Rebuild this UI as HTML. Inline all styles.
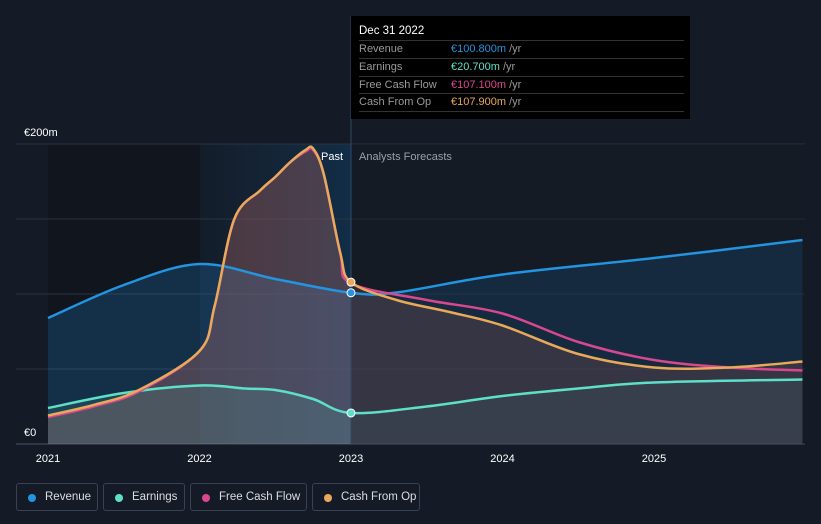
<!DOCTYPE html>
<html><head><meta charset="utf-8"><style>
body{margin:0;background:#151b26;font-family:"Liberation Sans",sans-serif;}
#wrap{position:relative;width:821px;height:524px;overflow:hidden;background:#151b26}
.tt{position:absolute;left:351px;top:16px;width:339px;height:103px;background:#000;color:#fff;font-size:11px}
.tt .h{position:absolute;left:8px;top:9px;font-size:11.5px}
.row{position:absolute;left:8px;width:325px;height:17px;border-top:1px solid #333;line-height:17px;color:#999}
.row span.v{position:absolute;left:92px}
.leg{position:absolute;top:483px;height:28px;border:1px solid #3a4150;border-radius:3px;color:#ddd;font-size:11.5px;line-height:27px;box-sizing:border-box;padding-left:28px;white-space:nowrap}
.leg i{position:absolute;left:11px;top:10px;width:8px;height:8px;border-radius:50%}
</style></head><body>
<div id="wrap">
<svg id="svg" width="821" height="524" style="position:absolute;left:0;top:0">
<defs>
<linearGradient id="hl" x1="0" x2="1" y1="0" y2="0"><stop offset="0" stop-color="#1a2f45" stop-opacity="0.3"/><stop offset="1" stop-color="#12304c" stop-opacity="0.9"/></linearGradient>
</defs>
<rect x="48" y="144" width="303" height="300" fill="#10151e"/>
<rect x="200" y="144" width="151" height="300" fill="url(#hl)"/>
<g id="grid"></g>
<g id="marks"></g>
</svg>
<div class="tt">
<div class="h">Dec 31 2022</div>
<div class="row" style="top:24px">Revenue<span class="v"><span style="color:#2394df">€100.800m</span> /yr</span></div>
<div class="row" style="top:42px">Earnings<span class="v"><span style="color:#5ee0c8">€20.700m</span> /yr</span></div>
<div class="row" style="top:60px">Free Cash Flow<span class="v"><span style="color:#d9478f">€107.100m</span> /yr</span></div>
<div class="row" style="top:77px;border-bottom:1px solid #333">Cash From Op<span class="v"><span style="color:#e9a95a">€107.900m</span> /yr</span></div>
</div>
<div class="leg" style="left:16px;width:82px"><i style="background:#2394df"></i>Revenue</div>
<div class="leg" style="left:103px;width:82px"><i style="background:#5ee0c8"></i>Earnings</div>
<div class="leg" style="left:190px;width:117px"><i style="background:#d9478f"></i>Free Cash Flow</div>
<div class="leg" style="left:312px;width:108px"><i style="background:#e9a95a"></i>Cash From Op</div>
</div>
<script>
const yTicks=[0,50,100,150,200];
const yLabels=["€0","","","","€200m"];
const xTicks=[2021,2022,2023,2024,2025];
const revX=[2021,2021.5,2022,2022.5,2023,2023.3,2024,2025,2025.98];
const revY=[84,106,120,110,100.8,101,113,124,136];
const earnX=[2021,2021.5,2022,2022.3,2022.5,2022.75,2023,2023.5,2024,2024.5,2025,2025.98];
const earnY=[24,34,39,37,36,30,20.7,25,32,37,41,43];
const cfoX=[2021,2021.3,2021.6,2022,2022.1,2022.23,2022.4,2022.5,2022.6,2022.7,2022.75,2022.82,2022.93,2023,2023.3,2023.65,2024,2024.5,2025,2025.5,2025.98];
const cfoY=[19,26,36,62,92,150,169,178,188,196,197,180,127,107.9,96,88,79,60,51,51,55];
const fcfX=[2021,2021.3,2021.6,2022,2022.1,2022.23,2022.4,2022.5,2022.6,2022.7,2022.75,2022.82,2022.93,2023,2023.5,2024,2024.5,2025,2025.5,2025.98];
const fcfY=[18,25,35,62,92,150,169,178,188,195,196,180,127,107.1,96,87,68,56,51,49];
const NS="http://www.w3.org/2000/svg";
const X=v=>48+(v-2021)*151.5;
const Y=v=>444-1.5*v;
function mk(t,a,p){const e=document.createElementNS(NS,t);for(const k in a)e.setAttribute(k,a[k]);p.appendChild(e);return e;}
function path(xs,ys){const P=xs.map((x,i)=>[X(x),Y(ys[i])]);let d="M"+P[0];for(let i=0;i<P.length-1;i++){const p0=P[i-1]||P[i],p1=P[i],p2=P[i+1],p3=P[i+2]||p2;const c1=[p1[0]+(p2[0]-p0[0])/6,p1[1]+(p2[1]-p0[1])/6],c2=[p2[0]-(p3[0]-p1[0])/6,p2[1]-(p3[1]-p1[1])/6];d+="C"+c1+" "+c2+" "+p2;}return d;}
const grid=document.getElementById('grid'),marks=document.getElementById('marks');
yTicks.forEach((t,i)=>{const g=mk('line',{x1:16,x2:805,y1:Y(t),y2:Y(t),stroke:i==0?'#4a5160':'#2c3340','stroke-width':1},grid);


if(yLabels[i]){const tx=mk('text',{x:24,y:Y(t)-8,fill:'#fff','font-size':11},grid);tx.textContent=yLabels[i];

}});
xTicks.forEach(t=>{const tx=mk('text',{x:X(t),y:462,fill:'#fff','font-size':11,'text-anchor':'middle'},grid);tx.textContent=t;

});
const base=Y(0);
function area(xs,ys,fill,op,name){const d=path(xs,ys)+`L${X(xs[xs.length-1])},${base}L${X(xs[0])},${base}Z`;const e=mk('path',{d,fill,'fill-opacity':op},marks);

}
function line(xs,ys,c,name){const e=mk('path',{d:path(xs,ys),fill:'none',stroke:c,'stroke-width':2.5},marks);

}
area(revX,revY,'#1f6fb0',0.3,'revenue-area');
area(cfoX,cfoY,'#b06a6a',0.35,'cfo-area');
area(earnX,earnY,'#5ee0c8',0.12,'earnings-area');
const fr=mk('rect',{x:351,y:144,width:454,height:300,fill:'#151b26','fill-opacity':0.4},marks);


line(revX,revY,'#2394df','revenue-line');
line(earnX,earnY,'#5ee0c8','earnings-line');
line(fcfX,fcfY,'#d9478f','fcf-line');
line(cfoX,cfoY,'#e9a95a','cfo-line');
const vl=mk('line',{x1:351,x2:351,y1:16,y2:444,stroke:'#2f4a66','stroke-width':1},marks);


[[cfoY[13],'#e9a95a'],[revY[4],'#2394df'],[earnY[6],'#5ee0c8']].forEach(([v,c])=>{const d=mk('circle',{cx:351,cy:Y(v),r:4,fill:c,stroke:'#fff','stroke-width':1},marks);

});
const p=mk('text',{x:343,y:160,fill:'#fff','font-size':11,'text-anchor':'end'},marks);p.textContent='Past';


const f=mk('text',{x:359,y:160,fill:'#9aa0a8','font-size':11},marks);f.textContent='Analysts Forecasts';


</script>
</body></html>
